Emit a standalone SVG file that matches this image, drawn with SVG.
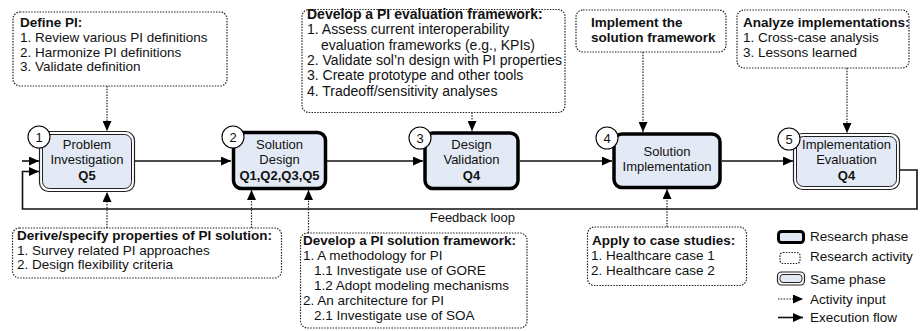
<svg xmlns="http://www.w3.org/2000/svg" width="920" height="331" viewBox="0 0 920 331">
<style>
text{font-family:"Liberation Sans",Arial,sans-serif;fill:#111}
.act{font-size:13.5px}
.big{font-size:14px}
.b{font-weight:bold}
.nt{font-size:13px;text-anchor:middle}
.dot{fill:#fff;stroke:#222;stroke-width:1.2;stroke-dasharray:1.5 1.3}
.thick{fill:#e4eaf5;stroke:#000;stroke-width:3.5}
.dbo{fill:#fff;stroke:#222;stroke-width:1.2}
.dbi{fill:#e4eaf5;stroke:#222;stroke-width:1}
.num{fill:#fff;stroke:#000;stroke-width:1.1}
.flow{fill:none;stroke:#111;stroke-width:1.6}
.din{fill:none;stroke:#222;stroke-width:1.2;stroke-dasharray:1.5 1.3}
</style>
<defs>
<marker id="ah" markerUnits="userSpaceOnUse" markerWidth="11" markerHeight="9" refX="10" refY="4.5" orient="auto">
<path d="M0,0 L10,4.5 L0,9 z" fill="#000"/>
</marker>
</defs>

<g id="connectors">
<line class="din" x1="107" y1="86" x2="107" y2="131" marker-end="url(#ah)"/>
<line class="din" x1="472" y1="112.5" x2="472" y2="131" marker-end="url(#ah)"/>
<line class="din" x1="643" y1="52" x2="643" y2="132" marker-end="url(#ah)"/>
<line class="din" x1="847" y1="68" x2="847" y2="133" marker-end="url(#ah)"/>
<line class="din" x1="107" y1="228" x2="107" y2="192" marker-end="url(#ah)"/>
<line class="din" x1="251.5" y1="228" x2="251.5" y2="190" marker-end="url(#ah)"/>
<line class="din" x1="308.5" y1="233" x2="308.5" y2="190" marker-end="url(#ah)"/>
<line class="din" x1="667" y1="227" x2="667" y2="189" marker-end="url(#ah)"/>
<line class="flow" x1="135" y1="161" x2="231" y2="161" marker-end="url(#ah)"/>
<line class="flow" x1="327" y1="161" x2="423" y2="161" marker-end="url(#ah)"/>
<line class="flow" x1="520" y1="161" x2="612" y2="161" marker-end="url(#ah)"/>
<line class="flow" x1="722" y1="161" x2="793" y2="161" marker-end="url(#ah)"/>
<line class="flow" x1="22" y1="161" x2="39" y2="161" marker-end="url(#ah)"/>
<path class="flow" d="M900,170 H917 V209 H22.5 V171.5 H39" marker-end="url(#ah)"/>
<text x="515" y="222" style="font-size:13px;text-anchor:end">Feedback loop</text>
</g>

<g id="act-define">
<rect class="dot" x="13" y="12" width="214" height="74" rx="7"/>
<text class="act b" x="20" y="27">Define PI:</text>
<text class="act" x="20" y="42">1. Review various PI definitions</text>
<text class="act" x="20" y="56.5">2. Harmonize PI definitions</text>
<text class="act" x="20" y="71">3. Validate definition</text>
</g>

<g id="act-eval">
<rect class="dot" x="302" y="9.5" width="263" height="103" rx="7"/>
<text class="big b" x="307" y="19">Develop a PI evaluation framework:</text>
<text class="big" x="307" y="34.3">1. Assess current interoperability</text>
<text class="big" x="321" y="49.6">evaluation frameworks (e.g., KPIs)</text>
<text class="big" x="307" y="64.9">2. Validate sol’n design with PI properties</text>
<text class="big" x="307" y="80.2">3. Create prototype and other tools</text>
<text class="big" x="307" y="95.5">4. Tradeoff/sensitivity analyses</text>
</g>

<g id="act-implement">
<rect class="dot" x="576" y="10" width="150" height="42" rx="7"/>
<text class="act b" x="591" y="27">Implement the</text>
<text class="act b" x="591" y="42">solution framework</text>
</g>

<g id="act-analyze">
<rect class="dot" x="737" y="10" width="172" height="58" rx="7"/>
<text class="act b" x="743" y="27">Analyze implementations:</text>
<text class="act" x="743" y="42">1. Cross-case analysis</text>
<text class="act" x="743" y="57">3. Lessons learned</text>
</g>

<g id="act-derive">
<rect class="dot" x="12.5" y="228" width="269" height="50" rx="7"/>
<text class="act b" x="17" y="240">Derive/specify properties of PI solution:</text>
<text class="act" x="17" y="254.5">1. Survey related PI approaches</text>
<text class="act" x="17" y="269">2. Design flexibility criteria</text>
</g>

<g id="act-solution">
<rect class="dot" x="300.5" y="233" width="226.5" height="95" rx="7"/>
<text class="act b" x="303" y="244.5">Develop a PI solution framework:</text>
<text class="act" x="303" y="259.5">1. A methodology for PI</text>
<text class="act" x="314" y="274.5">1.1 Investigate use of GORE</text>
<text class="act" x="314" y="289.5">1.2 Adopt modeling mechanisms</text>
<text class="act" x="303" y="304.5">2. An architecture for PI</text>
<text class="act" x="314" y="319.5">2.1 Investigate use of SOA</text>
</g>

<g id="act-cases">
<rect class="dot" x="587.5" y="227" width="159" height="58.5" rx="7"/>
<text class="act b" x="592" y="244.5">Apply to case studies:</text>
<text class="act" x="591" y="260">1. Healthcare case 1</text>
<text class="act" x="591" y="275">2. Healthcare case 2</text>
</g>

<g id="phase1">
<rect class="dbo" x="39.5" y="131.5" width="95" height="60" rx="9"/>
<rect class="dbi" x="42.5" y="134.5" width="89" height="54" rx="7"/>
<circle class="num" cx="39" cy="137" r="11"/>
<text class="nt" x="39" y="141.5">1</text>
<text class="nt" x="87" y="148.5">Problem</text>
<text class="nt" x="87" y="163.5">Investigation</text>
<text class="nt b" x="87" y="180">Q5</text>
</g>

<g id="phase2">
<rect class="thick" x="233.5" y="132.5" width="92" height="56" rx="8"/>
<circle class="num" cx="233" cy="137" r="11"/>
<text class="nt" x="233" y="141.5">2</text>
<text class="nt" x="279.5" y="148.5">Solution</text>
<text class="nt" x="279.5" y="163.5">Design</text>
<text class="nt b" x="279.5" y="180">Q1,Q2,Q3,Q5</text>
</g>

<g id="phase3">
<rect class="thick" x="425" y="133" width="93" height="55.5" rx="8"/>
<circle class="num" cx="420" cy="138" r="11"/>
<text class="nt" x="420" y="142.5">3</text>
<text class="nt" x="471.5" y="148.5">Design</text>
<text class="nt" x="471.5" y="163.5">Validation</text>
<text class="nt b" x="471.5" y="180">Q4</text>
</g>

<g id="phase4">
<rect class="thick" x="614" y="134" width="106" height="53.5" rx="8"/>
<circle class="num" cx="607" cy="138" r="11"/>
<text class="nt" x="607" y="142.5">4</text>
<text class="nt" x="667" y="156">Solution</text>
<text class="nt" x="667" y="171">Implementation</text>
</g>

<g id="phase5">
<rect class="dbo" x="793.5" y="133.5" width="106" height="56" rx="9"/>
<rect class="dbi" x="796.5" y="136.5" width="100" height="50" rx="7"/>
<circle class="num" cx="789" cy="139" r="11"/>
<text class="nt" x="789" y="143.5">5</text>
<text class="nt" x="846.5" y="148.5">Implementation</text>
<text class="nt" x="846.5" y="163.5">Evaluation</text>
<text class="nt b" x="846.5" y="180">Q4</text>
</g>

<g id="legend">
<rect class="thick" x="778.5" y="231.5" width="25" height="11" rx="3" style="stroke-width:3"/>
<text class="act" x="810" y="240.5">Research phase</text>
<rect class="dot" x="780" y="252.5" width="20" height="11" rx="3"/>
<text class="act" x="810" y="261">Research activity</text>
<rect class="dbo" x="777.5" y="272" width="27" height="13" rx="4"/>
<rect class="dbi" x="780" y="274.5" width="22" height="8" rx="3"/>
<text class="act" x="810" y="284">Same phase</text>
<line class="din" x1="778" y1="299" x2="803" y2="299" marker-end="url(#ah)"/>
<text class="act" x="810" y="304">Activity input</text>
<line class="flow" x1="778" y1="317.5" x2="803" y2="317.5" marker-end="url(#ah)"/>
<text class="act" x="810" y="322">Execution flow</text>
</g>
</svg>
